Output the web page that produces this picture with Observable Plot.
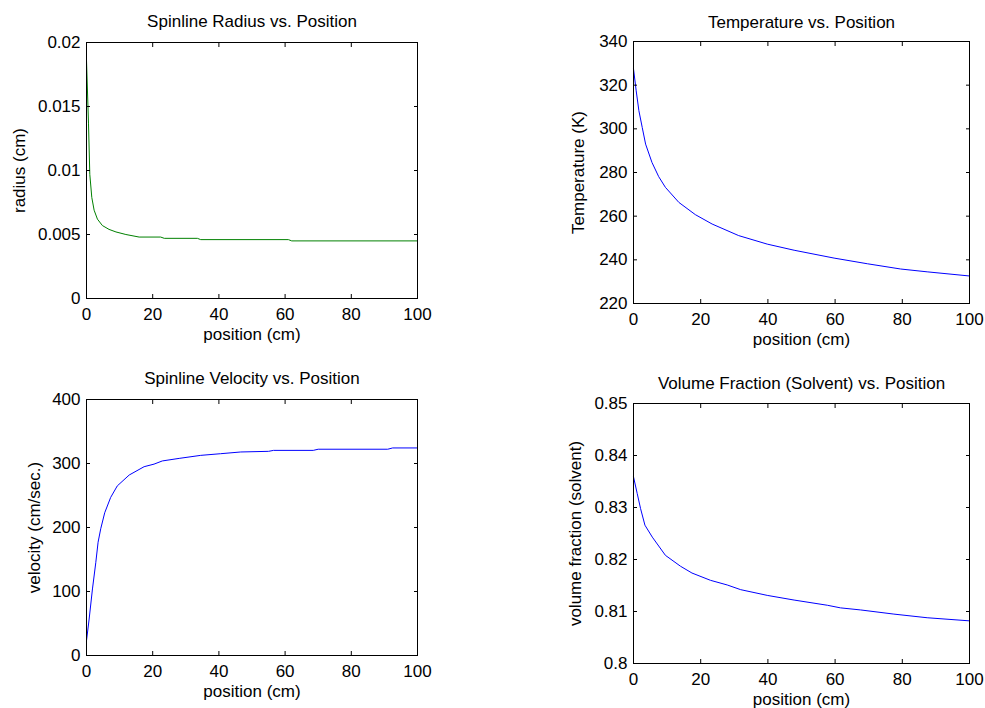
<!DOCTYPE html>
<html>
<head>
<meta charset="utf-8">
<script src="https://cdn.jsdelivr.net/npm/d3@7"></script>
<script src="https://cdn.jsdelivr.net/npm/@observablehq/plot@0.6"></script>
<style>
  html, body { margin: 0; padding: 0; background: #fff; }
  #root { position: relative; width: 985px; height: 708px; overflow: hidden; background: #fff; }
  .panel { position: absolute; }
  .panel svg { max-width: none !important; display: block; }
</style>
</head>
<body>
<div id="root"></div>
<script>
// ---- Data ----
const xTicks = [0, 20, 40, 60, 80, 100];

const radiusTicks = [0, 0.005, 0.01, 0.015, 0.02];
const radiusPos = [0, 0.6, 1, 1.6, 2.3, 3.3, 4.8, 6.8, 8.9, 11.9, 15.9, 22.4, 23.5, 33.5, 34.5, 61, 62, 100];
const radiusVal = [0.0186, 0.0137, 0.0097, 0.0079, 0.0069, 0.0062, 0.0057, 0.0054, 0.0052, 0.0050, 0.0048, 0.0048, 0.0047, 0.0047, 0.0046, 0.0046, 0.0045, 0.0045];

const tempTicks = [220, 240, 260, 280, 300, 320, 340];
const tempPos = [0, 0.8, 1.6, 2.6, 3.6, 5.5, 7.5, 9.5, 13.5, 18.4, 23.4, 31.3, 39.8, 47.8, 59.7, 69.6, 79.5, 87.4, 100];
const tempVal = [327.5, 317.4, 308.3, 300.6, 293, 284.6, 278.1, 273.2, 266.3, 260.7, 256.4, 251.1, 247.2, 244.4, 240.8, 238.2, 235.8, 234.5, 232.6];

const velTicks = [0, 100, 200, 300, 400];
const velPos = [0, 0.8, 1.8, 2.8, 3.5, 4.3, 5.5, 7.3, 9.3, 12.9, 17.4, 20.4, 22.9, 28, 34.5, 40.5, 46.6, 55, 56.5, 68.5, 70, 91, 92.5, 100];
const velVal = [23, 57, 104, 145, 177, 198, 223, 247, 265, 282, 295, 299, 304, 308, 312.7, 315.3, 318, 319, 320.5, 320.5, 322.3, 322.3, 324.3, 324.3];

const fracTicks = [0.8, 0.81, 0.82, 0.83, 0.84, 0.85];
const fracPos = [0, 1.1, 2.1, 3.4, 5.6, 9.5, 14, 17.4, 22.9, 27.9, 31.9, 39.8, 47.8, 57.7, 61.6, 67.6, 77.5, 87.4, 100];
const fracVal = [0.8359, 0.8327, 0.8298, 0.8266, 0.8243, 0.8208, 0.8187, 0.8174, 0.8160, 0.8151, 0.8142, 0.8131, 0.8122, 0.8112, 0.8107, 0.8103, 0.8095, 0.8088, 0.8082];

const titles = ["Spinline Radius vs. Position", "Temperature vs. Position", "Spinline Velocity vs. Position", "Volume Fraction (Solvent) vs. Position"];
const yLabels = ["radius (cm)", "Temperature (K)", "velocity (cm/sec.)", "volume fraction (solvent)"];
const xLabel = "position (cm)";

// ---- Layout ----
const ML = 90, MR = 40, MT = 50, MB = 60;
const FONT = "'Liberation Sans', Arial, Helvetica, sans-serif";

function panel(cfg) {
  const {boxLeft, boxTop, boxW, boxH, pos, val, yDomain, yTicks, color, title, ylabel, ylabelDx, titleDy} = cfg;
  const fmt = d => `${d}`;
  const blank = () => "";
  const W = boxW + ML + MR, H = boxH + MT + MB;
  const svg = Plot.plot({
    width: W,
    height: H,
    marginLeft: ML, marginRight: MR, marginTop: MT, marginBottom: MB,
    style: {fontFamily: FONT, fontSize: "17px", color: "black", background: "white", overflow: "visible"},
    x: {domain: [0, 100], label: null},
    y: {domain: yDomain, label: null},
    marks: [
      Plot.line(val, {x: pos, y: val, stroke: color, strokeWidth: 1}),
      Plot.frame({stroke: "black", strokeWidth: 1}),
      Plot.axisX({ticks: xTicks, anchor: "bottom", tickSize: 0, tickPadding: 9, tickFormat: fmt, label: null, fontSize: 17}),
      Plot.axisX({ticks: xTicks, anchor: "bottom", tickSize: -4, tickPadding: 0, tickFormat: blank, label: null}),
      Plot.axisX({ticks: xTicks, anchor: "top", tickSize: -4, tickPadding: 0, tickFormat: blank, label: null}),
      Plot.axisY({ticks: yTicks, anchor: "left", tickSize: 0, tickPadding: 6, tickFormat: fmt, label: null, fontSize: 17}),
      Plot.axisY({ticks: yTicks, anchor: "left", tickSize: -4, tickPadding: 0, tickFormat: blank, label: null}),
      Plot.axisY({ticks: yTicks, anchor: "right", tickSize: -4, tickPadding: 0, tickFormat: blank, label: null}),
      Plot.text([title], {text: d => d, frameAnchor: "top", dy: titleDy, textAnchor: "middle", lineAnchor: "middle", fontSize: 17, fill: "black"}),
      Plot.text([xLabel], {text: d => d, frameAnchor: "bottom", dy: 36, textAnchor: "middle", lineAnchor: "middle", fontSize: 17, fill: "black"}),
      Plot.text([ylabel], {text: d => d, frameAnchor: "left", dx: ylabelDx, rotate: -90, textAnchor: "middle", lineAnchor: "middle", fontSize: 17, fill: "black"})
    ]
  });
  svg.setAttribute("width", W);
  svg.setAttribute("height", H);
  svg.style.width = W + "px";
  svg.style.height = H + "px";
  const div = document.createElement("div");
  div.className = "panel";
  div.style.left = (boxLeft - ML) + "px";
  div.style.top = (boxTop - MT) + "px";
  div.style.width = W + "px";
  div.style.height = H + "px";
  div.appendChild(svg);
  document.getElementById("root").appendChild(div);
}

panel({boxLeft: 86, boxTop: 42, boxW: 331, boxH: 256, pos: radiusPos, val: radiusVal, yDomain: [0, 0.02], yTicks: radiusTicks, color: "#008000", title: titles[0], ylabel: yLabels[0], ylabelDx: -67, titleDy: -21});
panel({boxLeft: 633, boxTop: 41, boxW: 336, boxH: 262, pos: tempPos, val: tempVal, yDomain: [220, 340], yTicks: tempTicks, color: "#0000ff", title: titles[1], ylabel: yLabels[1], ylabelDx: -55, titleDy: -19});
panel({boxLeft: 86, boxTop: 399, boxW: 331, boxH: 256, pos: velPos, val: velVal, yDomain: [0, 400], yTicks: velTicks, color: "#0000ff", title: titles[2], ylabel: yLabels[2], ylabelDx: -52, titleDy: -21});
panel({boxLeft: 633, boxTop: 403, boxW: 336, boxH: 260, pos: fracPos, val: fracVal, yDomain: [0.8, 0.85], yTicks: fracTicks, color: "#0000ff", title: titles[3], ylabel: yLabels[3], ylabelDx: -58, titleDy: -20});
</script>
</body>
</html>
